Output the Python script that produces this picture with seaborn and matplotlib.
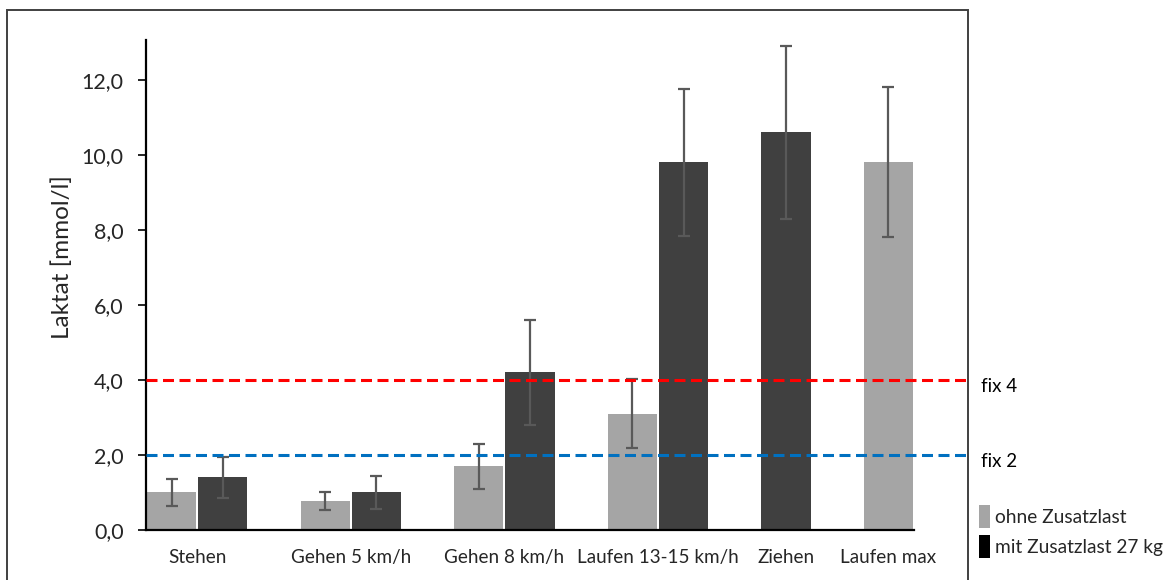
import matplotlib
matplotlib.use("Agg")
import matplotlib.pyplot as plt
from matplotlib.patches import Patch, Rectangle
from matplotlib.ticker import FuncFormatter
import numpy as np
import pandas as pd
import seaborn as sns

# --- data -------------------------------------------------------------
kategorien = ["Stehen", "Gehen 5 km/h", "Gehen 8 km/h", "Laufen 13-15 km/h", "Ziehen", "Laufen max"]
ohne_last = [1.0, 0.77, 1.7, 3.1, None, 9.8]        # Laktat ohne Zusatzlast
ohne_sd = [0.35, 0.23, 0.6, 0.92, None, 2.0]
mit_last = [1.4, 1.0, 4.2, 9.8, 10.6, None]         # Laktat mit Zusatzlast 27 kg
mit_sd = [0.55, 0.44, 1.4, 1.97, 2.3, None]
schwellen = [4.0, 2.0]
schwellen_text = ["fix 4", "fix 2"]
y_ticks = [0, 2, 4, 6, 8, 10, 12]
serien = ["ohne Zusatzlast", "mit Zusatzlast 27 kg"]

# --- layout -----------------------------------------------------------
start_slot = [0, 3, 6, 9, 12, 14]   # first bar slot of each category
n_slots = 15
farben = {"ohne Zusatzlast": "#A5A5A5", "mit Zusatzlast 27 kg": "#404040"}
legend_farben = ["#A5A5A5", "#000000"]
schwellen_farben = ["#FF0000", "#0070C0"]

rows = []
label_pos = []
for i, kat in enumerate(kategorien):
    slot = start_slot[i]
    centers = []
    for serie, werte, sds in ((serien[0], ohne_last, ohne_sd), (serien[1], mit_last, mit_sd)):
        if werte[i] is None:
            continue
        rows.append({"kategorie": kat, "serie": serie, "pos": slot + 0.5,
                     "wert": werte[i], "sd": sds[i]})
        centers.append(slot + 0.5)
        slot += 1
    label_pos.append(float(np.mean(centers)))
df = pd.DataFrame(rows)

sns.set_theme(style="white")
plt.rcParams["font.family"] = ["Lato", "DejaVu Sans"]

fig = plt.figure(figsize=(11.75, 5.8), dpi=100)
W, H = 1175, 580
ax = fig.add_axes([146 / W, 50 / H, (914 - 146) / W, (530 - 40.5) / H])

sns.barplot(data=df, x="pos", y="wert", hue="serie", hue_order=serien,
            palette=farben, native_scale=True, dodge=False, width=0.96,
            errorbar=None, legend=False, linewidth=0, ax=ax)

# standard deviation whiskers, placed on the drawn bars
for patch in ax.patches:
    h = patch.get_height()
    if h <= 0:
        continue
    xc = patch.get_x() + patch.get_width() / 2
    match = df.loc[np.isclose(df["pos"], xc) & np.isclose(df["wert"], h), "sd"]
    if len(match):
        ax.errorbar(xc, h, yerr=match.iloc[0], color="#595959", elinewidth=1.6,
                    capsize=4.3, capthick=1.6, zorder=3)

# threshold lines extending to the chart border
x_end = (968 - 146) / (914 - 146)
for y, col, txt in zip(schwellen, schwellen_farben, schwellen_text):
    ax.plot([0, x_end], [y, y], transform=ax.get_yaxis_transform(), color=col,
            lw=2.2, ls=(0, (3.6, 1.8)), clip_on=False, zorder=4)
    ax.annotate(txt, xy=(981 / W, y), xycoords=("figure fraction", "data"),
                xytext=(0, -4.5), textcoords="offset points",
                ha="left", va="center", fontsize=13.5, color="#000000",
                annotation_clip=False)

ax.set_xlim(0, n_slots)
ax.set_ylim(0, 13.05)
ax.set_xticks(label_pos)
ax.set_xticklabels(kategorien, fontsize=13.6)
ax.set_yticks(y_ticks)
ax.yaxis.set_major_formatter(FuncFormatter(lambda v, _: f"{v:.1f}".replace(".", ",")))
ax.tick_params(axis="y", labelsize=15.5, length=6, width=1.2, direction="out",
               color="#000000", pad=10, left=True)
ax.tick_params(axis="x", length=0, pad=14)
ax.set_xlabel("")
ax.set_ylabel("Laktat [mmol/l]", fontsize=17.5)
ax.yaxis.set_label_coords((73 - 146) / (914 - 146), (530 - 257) / (530 - 40.5))
for side in ("top", "right"):
    ax.spines[side].set_visible(False)
for side in ("left", "bottom"):
    ax.spines[side].set_color("#000000")
    ax.spines[side].set_linewidth(1.6)

# legend outside the framed area
handles = [Patch(facecolor=c, edgecolor="none") for c in legend_farben]
fig.legend(handles, serien, loc="upper left", bbox_to_anchor=(979 / W, 1 - 505 / H),
           frameon=False, fontsize=13.8, handlelength=0.55, handleheight=1.45,
           handletextpad=0.3, labelspacing=0.4, borderpad=0, borderaxespad=0)

# outer chart border
fig.patches.append(Rectangle((7 / W, -0.02), (968 - 7) / W, 1.02 - 10 / H,
                             transform=fig.transFigure, fill=False,
                             edgecolor="#404040", lw=1.4))

fig.savefig("out.png", dpi=100, facecolor="white")
